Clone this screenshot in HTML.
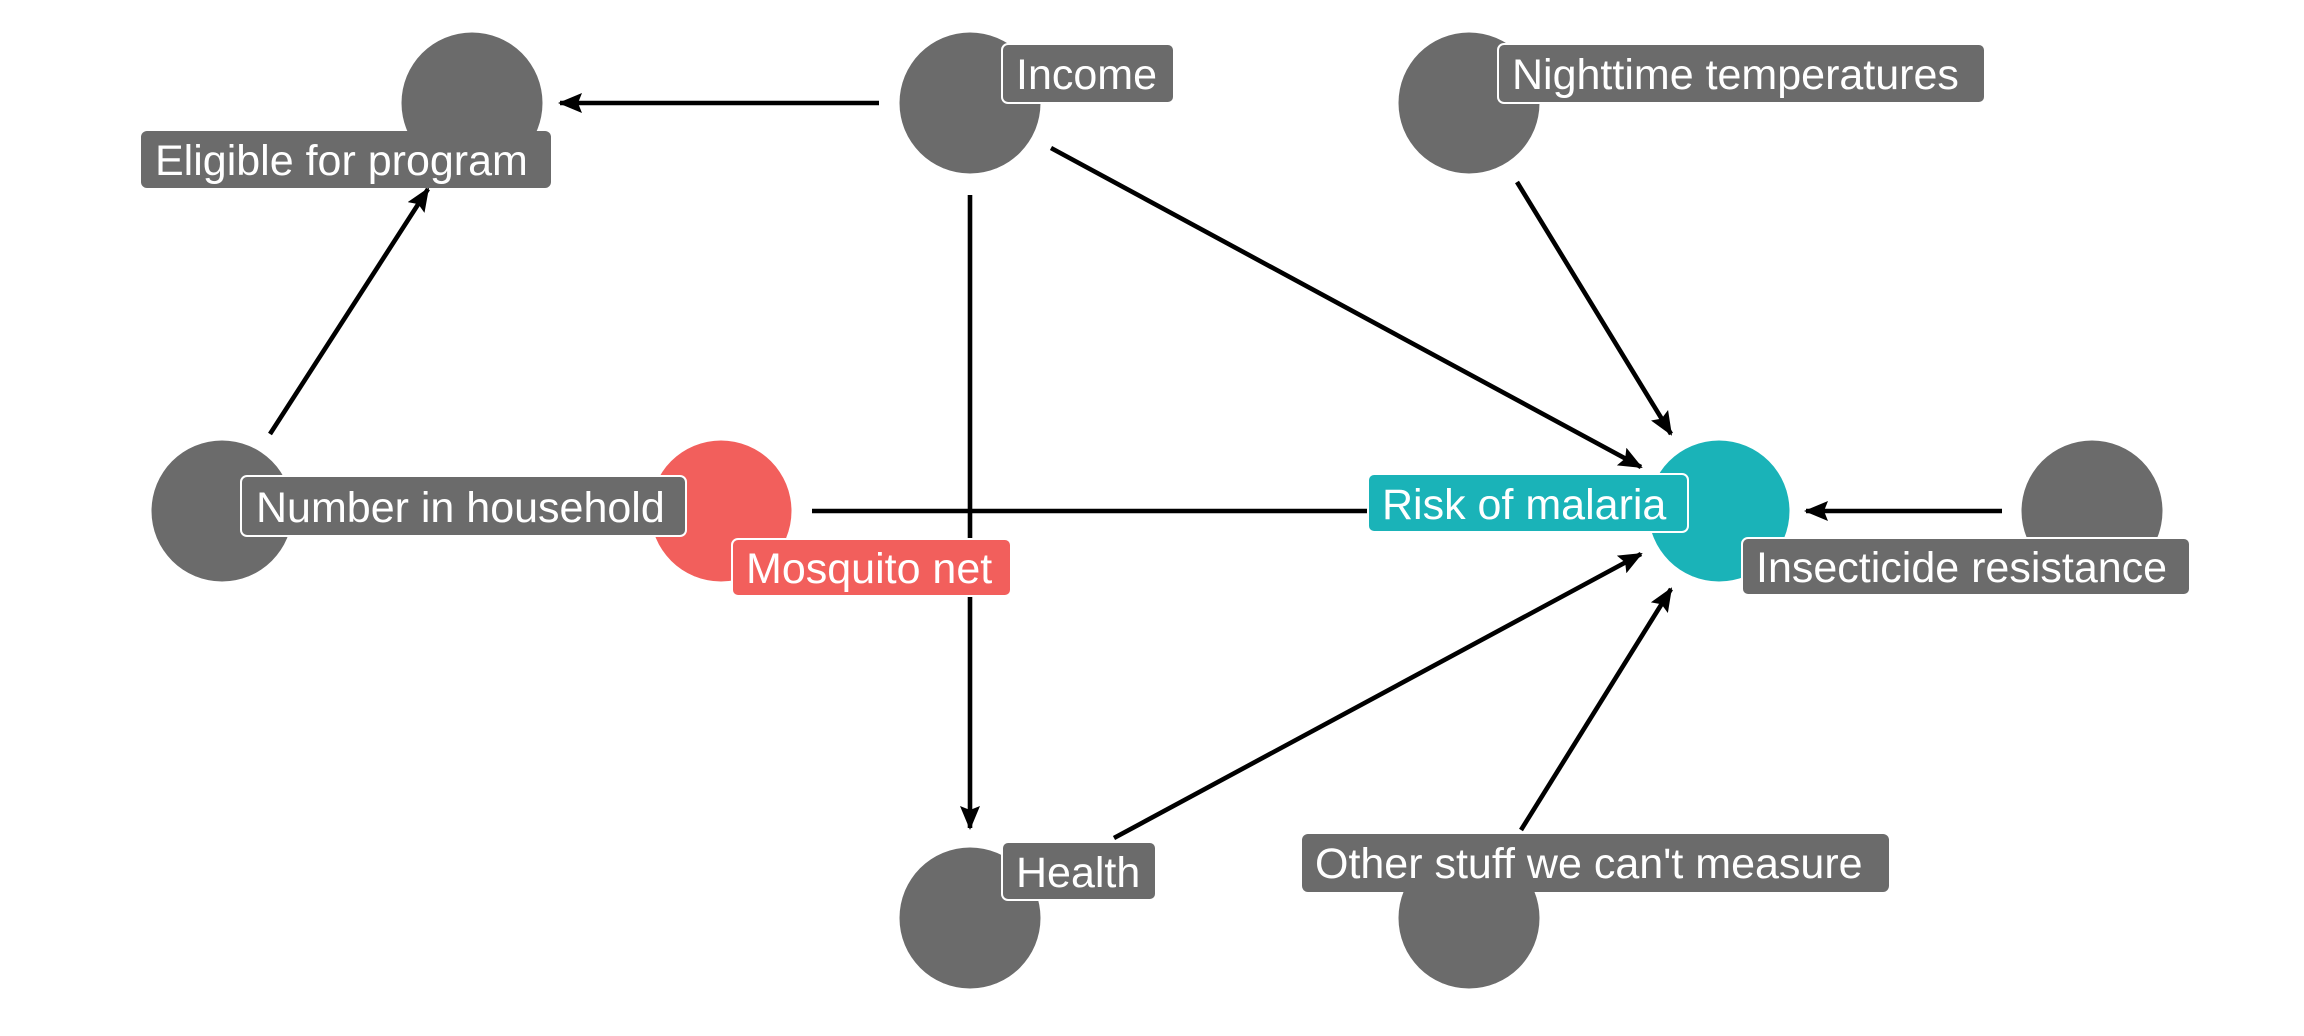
<!DOCTYPE html>
<html><head><meta charset="utf-8"><style>
html,body{margin:0;padding:0;background:#fff;}
svg{display:block;}
text{font-family:"Liberation Sans",sans-serif;font-size:43px;fill:#fff;}
</style></head><body>
<svg width="2304" height="1036" viewBox="0 0 2304 1036" xmlns="http://www.w3.org/2000/svg">
<defs>
<marker id="ah" viewBox="0 0 24 24" refX="22" refY="12" markerWidth="24" markerHeight="24" orient="auto" markerUnits="userSpaceOnUse">
<path d="M0,2 L24,12 L0,22 L4,12 Z" fill="#000"/>
</marker>
</defs>
<g stroke="#000" stroke-width="4.6" fill="none" marker-end="url(#ah)">
<line x1="879" y1="103" x2="560" y2="103"/>
<line x1="970" y1="195" x2="970" y2="828"/>
<line x1="1051" y1="148" x2="1641" y2="467"/>
<line x1="1517" y1="182" x2="1671" y2="434"/>
<line x1="270" y1="434" x2="428" y2="189"/>
<line x1="2002" y1="511" x2="1806" y2="511"/>
<line x1="1114" y1="838" x2="1641" y2="554"/>
<line x1="1521" y1="830" x2="1671" y2="589"/>
</g>
<line x1="812" y1="511" x2="1400" y2="511" stroke="#000" stroke-width="4.6"/>
<g fill="#6b6b6b">
<circle cx="472" cy="103" r="70.5"/>
<circle cx="970" cy="103" r="70.5"/>
<circle cx="1469" cy="103" r="70.5"/>
<circle cx="222" cy="511" r="70.5"/>
<circle cx="2092" cy="511" r="70.5"/>
<circle cx="970" cy="918" r="70.5"/>
<circle cx="1469" cy="918" r="70.5"/>
</g>
<circle cx="721" cy="511" r="70.5" fill="#f25f5c"/>
<circle cx="1719" cy="511" r="70.5" fill="#1ab3b8"/>
<g stroke="#fff" stroke-width="2">
<rect x="141" y="131" width="410" height="57" rx="6" fill="#6b6b6b" stroke="none"/>
<rect x="1002" y="44" width="172" height="59" rx="6" fill="#6b6b6b"/>
<rect x="1498" y="44" width="487" height="59" rx="6" fill="#6b6b6b"/>
<rect x="241" y="476" width="445" height="60" rx="6" fill="#6b6b6b"/>
<rect x="732" y="539" width="279" height="57" rx="6" fill="#f25f5c"/>
<rect x="1368" y="474" width="320" height="58" rx="6" fill="#1ab3b8"/>
<rect x="1742" y="538" width="448" height="57" rx="6" fill="#6b6b6b"/>
<rect x="1002" y="842" width="154" height="58" rx="6" fill="#6b6b6b"/>
<rect x="1302" y="834" width="587" height="58" rx="6" fill="#6b6b6b" stroke="none"/>
</g>
<text x="155" y="175">Eligible for program</text>
<text x="1016" y="89">Income</text>
<text x="1512" y="89">Nighttime temperatures</text>
<text x="256" y="522">Number in household</text>
<text x="746" y="583">Mosquito net</text>
<text x="1382" y="519">Risk of malaria</text>
<text x="1756" y="582">Insecticide resistance</text>
<text x="1016" y="887">Health</text>
<text x="1315" y="878">Other stuff we can't measure</text>
</svg>
</body></html>
